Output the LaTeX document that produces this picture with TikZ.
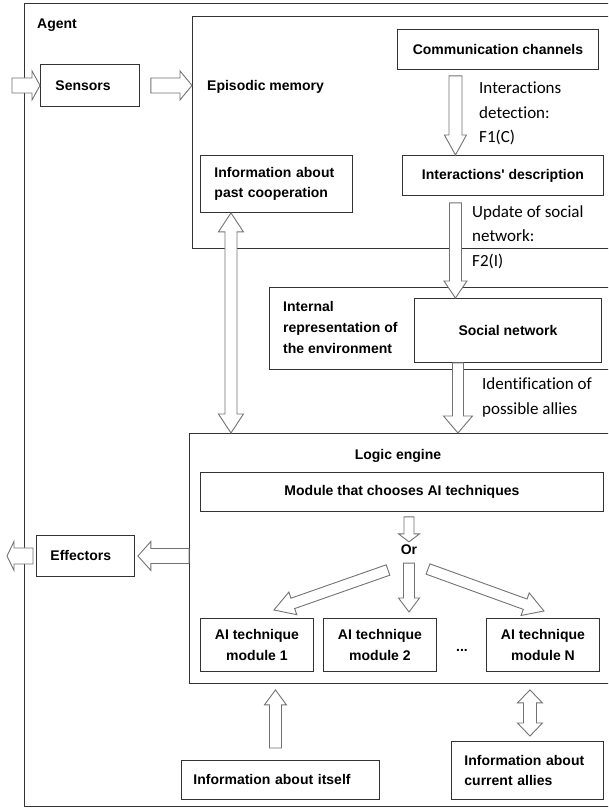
\documentclass[tikz,border=0pt]{standalone}
\usepackage{fontspec}
\setmainfont{Liberation Sans}
\newfontfamily\notefont[Ligatures=NoCommon]{Carlito}
\usetikzlibrary{calc}
\definecolor{mline}{rgb}{0.2, 0.2, 0.2}
\definecolor{marrow}{rgb}{0.45, 0.45, 0.45}
\tikzset{frame/.style = {draw=mline, line width=0.9pt, inner sep=0pt, anchor=north west},
         box/.style = {frame, fill=white, align=center,
                       font=\bfseries\fontsize{14}{20.5}\selectfont},
         lbl/.style = {inner sep=0pt, font=\bfseries\fontsize{14}{21}\selectfont},
         note/.style = {inner sep=0pt, anchor=west, align=left,
                        font=\notefont\fontsize{17}{24.5}\selectfont},
         barrow/.style = {draw=marrow, fill=white, line width=0.9pt},
         aw/.code args = {#1/#2/#3}{\def\sw{#1}\def\hw{#2}\def\hl{#3}}}
\newcommand\blockarrow[3][]{%
  \draw [barrow, #1] let \p1=(#2), \p2=(#3),
      \n1={atan2(\y2-\y1,\x2-\x1)}, \n2={veclen(\x2-\x1,\y2-\y1)} in
    [shift={(\p1)}, rotate=\n1]
    (0,\sw) -- ({\n2-\hl},\sw) -- ({\n2-\hl},\hw) -- (\n2,0)
    -- ({\n2-\hl},-\hw) -- ({\n2-\hl},-\sw) -- (0,-\sw) -- cycle;}
\newcommand\dblockarrow[3][]{%
  \draw [barrow, #1] let \p1=(#2), \p2=(#3),
      \n1={atan2(\y2-\y1,\x2-\x1)}, \n2={veclen(\x2-\x1,\y2-\y1)} in
    [shift={(\p1)}, rotate=\n1]
    (0,0) -- (\hl,\hw) -- (\hl,\sw) -- ({\n2-\hl},\sw) -- ({\n2-\hl},\hw) -- (\n2,0)
    -- ({\n2-\hl},-\hw) -- ({\n2-\hl},-\sw) -- (\hl,-\sw) -- (\hl,-\hw) -- cycle;}

\begin{document}
\begin{tikzpicture}[x=1pt, y=-1pt]
    \fill [white] (0,0) rectangle (608,808);
    \useasboundingbox (0,0) rectangle (608,808);
    \clip (0,0) rectangle (608,808);

    \node [frame, minimum width=600pt, minimum height=803pt] (agent) at (24,3) {};
    \node [lbl, anchor=west] (agentlbl) at (37,25) {Agent};
    \node [frame, minimum width=430pt, minimum height=232pt] (epi) at (192,16) {};
    \node [lbl, anchor=west] (epilbl) at (207,87) {Episodic memory};
    \node [frame, minimum width=360pt, minimum height=82pt] (irep) at (269,287) {};
    \node [lbl, anchor=west, align=left] (ireplbl) at (283,327) {Internal\\representation of\\the environment};
    \node [frame, minimum width=440pt, minimum height=250pt] (logic) at (189,433) {};
    \node [lbl] (logiclbl) at (398,456) {Logic engine};

    \node [box, align=left, inner xsep=15pt, text width=69pt, minimum height=42pt] (sens) at (40,64) {Sensors};
    \node [box, minimum width=201pt, minimum height=40pt] (comm) at (397,29) {Communication channels};
    \node [box, minimum width=201pt, minimum height=40pt] (inter) at (402,155) {Interactions\textquotesingle{} description};
    \node [box, align=left, inner xsep=14pt, text width=124pt, minimum height=57pt] (past) at (200,155) {Information about\\past cooperation};
    \node [box, minimum width=187pt, minimum height=64pt] (soc) at (414,298) {Social network};
    \node [box, minimum width=403pt, minimum height=39pt] (choose) at (200,472) {Module that chooses AI techniques};
    \node [box, align=left, inner xsep=14pt, text width=70pt, minimum height=41pt] (eff) at (36,535) {Effectors};
    \foreach \px/\k in {200/1, 323/2, 486/N}
      \node [box, minimum width=113pt, minimum height=53pt] (m\k) at (\px,618) {AI technique\\module \k};
    \node [lbl] (dots) at (462,650) {...};
    \node [lbl] (orlbl) at (409,550) {Or};
    \node [box, align=left, inner xsep=12pt, text width=174pt, minimum height=39pt] (itself) at (181,760) {Information about itself};
    \node [box, align=left, inner xsep=13pt, text width=126pt, minimum height=58pt] (allies) at (451,741) {Information about\\current allies};

    \node [note] (f1) at (479,113.5) {Interactions\\detection:\\F1(C)};
    \node [note] (f2) at (472,237) {Update of social\\network:\\F2(I)};
    \node [note] (f3) at (482,397.5) {Identification of\\possible allies};

    \coordinate (sin) at ([xshift=-28pt]sens.west);
    \coordinate (cx) at ([xshift=-42.5pt]comm.south);
    \coordinate (ex) at ([xshift=-50pt]soc.south);
    \coordinate (fx) at ([xshift=-45.5pt]past.south);
    \coordinate (mx) at ([xshift=-5pt]itself.north);
    \coordinate (nx) at ([xshift=2.5pt]allies.north);

    \blockarrow[aw=7.5/14.5/8]{sin}{sens.west}
    \blockarrow[aw=7.5/14.5/12]{$(sens.east)+(11pt,0pt)$}{sens.east -| epi.west}
    \blockarrow[aw=6.5/11/20]{$(cx)+(0pt,-6pt)$}{cx |- inter.north}
    \blockarrow[aw=6/11.5/17]{$(cx |- inter.south)+(0pt,-7pt)$}{cx |- soc.north}
    \blockarrow[aw=5.5/14.5/17]{ex}{ex |- logic.north}
    \dblockarrow[aw=6/12.5/19]{fx}{fx |- logic.north}
    \blockarrow[aw=7.5/14.5/13]{logic.west |- eff.east}{$(eff.east)+(3pt,0pt)$}
    \blockarrow[aw=8/14.5/7]{$(eff.west)+(-3pt,0pt)$}{$(eff.west)+(-29pt,0pt)$}

    \blockarrow[aw=5/10.5/8]{$(choose.south -| orlbl)+(0pt,-5pt)$}{$(orlbl.north)+(0pt,3pt)$}
    \blockarrow[aw=5.5/10.5/14]{$(orlbl.south)+(0pt,-8pt)$}{$(orlbl |- m2.north)+(0pt,6pt)$}
    \blockarrow[aw=5.5/12/20]{$(orlbl)+(-21pt,-20pt)$}{$(m1.north)+(17pt,8pt)$}
    \blockarrow[aw=5.5/12/20]{$(orlbl)+(19pt,-19pt)$}{$(mN.north)+(1pt,7pt)$}

    \blockarrow[aw=6/11/15]{$(mx)+(0pt,12pt)$}{$(mx |- logic.south)+(0pt,-6pt)$}
    \dblockarrow[aw=6.5/12.5/13]{$(nx)+(0pt,5pt)$}{$(nx |- logic.south)+(0pt,-6pt)$}
\end{tikzpicture}
\end{document}
